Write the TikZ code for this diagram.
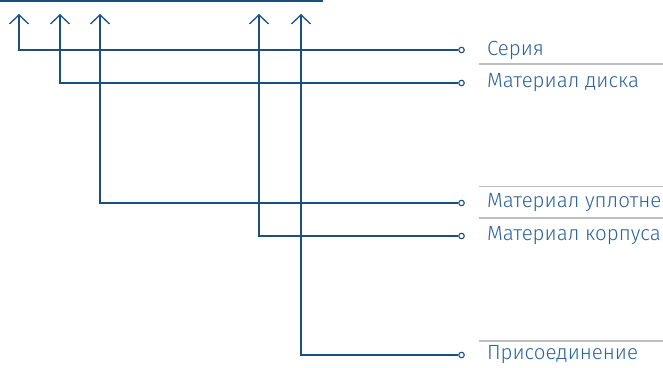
\documentclass[tikz,border=0pt]{standalone}
\usepackage{fontspec}
\setmainfont{Fira Sans}[UprightFont=* Light]
\usepackage{xcolor}
\usepackage{tikz}
\usetikzlibrary{positioning, arrows.meta}
\definecolor{lineblue}{RGB}{28,78,128}
\definecolor{textblue}{RGB}{43,99,153}
\definecolor{rulegray}{RGB}{190,190,190}

\begin{document}
\begin{tikzpicture}[x=1pt,y=-1pt,
  lead/.style={lineblue, line width=1.3pt},
  arrowup/.style={lead, -{Straight Barb[length=9pt,width=19pt,line width=1.3pt]}},
  pin/.style={circle, draw=lineblue, line width=1.1pt, fill=white, inner sep=0pt, minimum size=5.5pt},
  lbl/.style={anchor=west, inner sep=0pt, text=textblue, font=\fontsize{20.5}{24}\selectfont}]
\clip (0,0) rectangle (663,367);
\useasboundingbox (0,0) rectangle (663,367);
% Code cells
\draw[lineblue, line width=2pt] (0,0.5) -- (323,0.5);
\foreach \x in {39,80,121,161,202,243,283,323}
  \draw[white, line width=0.8pt] (\x,-1) -- (\x,0.3);
% Separators
\foreach \y in {64,186.5,218,341}
  \draw[rulegray, line width=1.2pt] (479,\y) -- (663,\y);
% Labels
\node[pin] (p1) at (461.5,50) {};
\node[pin] (p2) at (461.5,83) {};
\node[pin] (p3) at (461.5,203) {};
\node[pin] (p4) at (461.5,236) {};
\node[pin] (p5) at (461.5,355) {};
\node[lbl, right=22pt of p1] (ser) {Серия};
\node[lbl, right=22pt of p2] (disk) {Материал диска};
\node[lbl, right=22pt of p3] (upl) {Материал уплотнения};
\node[lbl, right=22pt of p4] (korp) {Материал корпуса};
\node[lbl, right=22pt of p5] (pris) {Присоединение};
% Leads
\coordinate (t1) at (19,14);
\coordinate (t2) at (60,14);
\coordinate (t3) at (100,14);
\coordinate (t4) at (259,14);
\coordinate (t5) at (301,14);
\draw[arrowup] (p1.west) -| (t1);
\draw[arrowup] (p2.west) -| (t2);
\draw[arrowup] (p3.west) -| (t3);
\draw[arrowup] (p4.west) -| (t4);
\draw[arrowup] (p5.west) -| (t5);
\end{tikzpicture}
\end{document}
